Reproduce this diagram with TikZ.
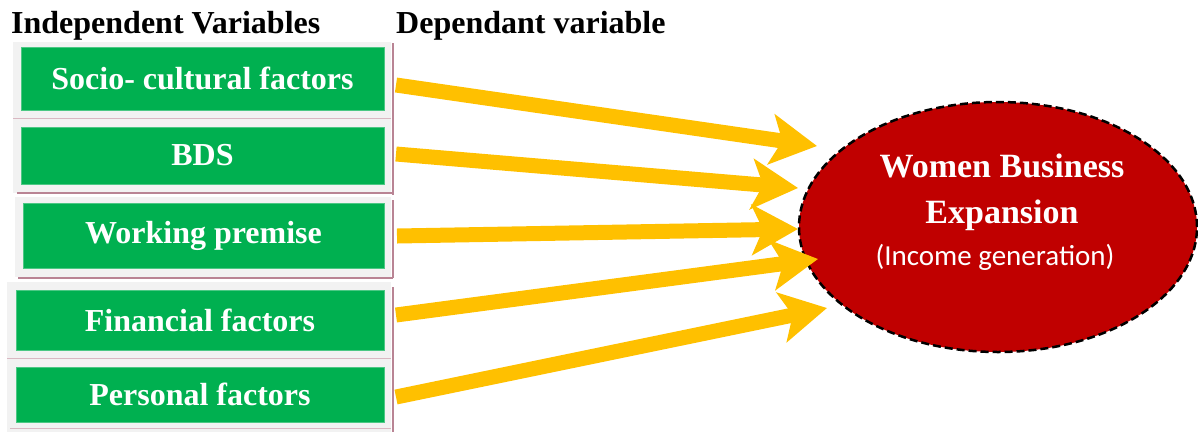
\documentclass[tikz,border=0pt]{standalone}
\usepackage{fontspec}
\setmainfont{Liberation Serif}
\newfontfamily\calib{Carlito}
\usetikzlibrary{arrows.meta,shapes.geometric}
\definecolor{boxgreen}{HTML}{00B050}
\definecolor{arrowyellow}{HTML}{FFC000}
\definecolor{ellred}{HTML}{C00000}
\definecolor{framegray}{HTML}{F2F2F2}
\definecolor{framepink}{HTML}{B98494}
\definecolor{seppink}{HTML}{D9B8C2}
\tikzset{
  varbox/.style={fill=boxgreen, draw=boxgreen!70!white, line width=0.6pt, inner sep=0pt, text=white, font=\bfseries\fontsize{32}{36}\selectfont},
  header/.style={anchor=base west, inner sep=0pt, font=\bfseries\fontsize{32}{36}\selectfont},
  bigarrow/.style={draw=arrowyellow, line width=15pt, -{Stealth[length=46pt, width=50pt, inset=11pt]}},
  frame/.style={fill=framegray, draw=none},
  pinkline/.style={draw=framepink, line width=2pt},
  sepline/.style={draw=seppink, line width=1pt},
  elltext/.style={anchor=base, inner sep=0pt, text=white},
}
\begin{document}
\begin{tikzpicture}[x=1pt,y=-1pt]
\useasboundingbox (0,0) rectangle (1198,432);
% frames
\fill[frame] (13,42) rectangle (391,193);
\fill[frame] (15,197) rectangle (391,277);
\fill[frame] (7,282) rectangle (391,432);
\draw[sepline] (13,118) -- (391,118);
\draw[sepline] (7,358) -- (391,358);
\draw[sepline] (10,428) -- (391,428);
\draw[pinkline] (17,193) -- (393,193);
\draw[pinkline] (393,43) -- (393,195);
\draw[pinkline] (18,277.5) -- (393,277.5);
\draw[pinkline] (393,200) -- (393,278);
\draw[pinkline] (393,287) -- (393,432);
% headers
\node[header] (h1) at (11,33) {Independent Variables};
\node[header] (h2) at (396,33) {Dependant variable};
% green boxes
\node[varbox, minimum width=363pt, minimum height=63pt] (b1) at (202.5,78.5) {Socio- cultural factors};
\node[varbox, minimum width=363pt, minimum height=57pt] (b2) at (202.5,155.5) {BDS};
\node[varbox, minimum width=361pt, minimum height=65pt] (b3) at (203.5,235.5) {Working premise};
\node[varbox, minimum width=368pt, minimum height=60pt] (b4) at (200,320) {Financial factors};
\node[varbox, minimum width=368pt, minimum height=55pt] (b5) at (200,394.5) {Personal factors};
% ellipse
\node[ellipse, fill=ellred, draw=black, line width=2.5pt, dash pattern=on 8pt off 4pt, minimum width=398pt, minimum height=250pt, inner sep=0pt] (ell) at (998,227) {};
\node[elltext, font=\bfseries\fontsize{34}{38}\selectfont] (t1) at (1002,177) {Women Business};
\node[elltext, font=\bfseries\fontsize{34}{38}\selectfont] (t2) at (1002,223) {Expansion};
\node[elltext, font=\calib\fontsize{29}{33}\selectfont] (t3) at (995,265) {(Income generation)};
% arrow ends
\coordinate (s1) at (396,85);   \coordinate (e1) at (817,146);
\coordinate (s2) at (396,154);  \coordinate (e2) at (798,188);
\coordinate (s3) at (397,236);  \coordinate (e3) at (798,229);
\coordinate (s4) at (396,315);  \coordinate (e4) at (818,259);
\coordinate (s5) at (396,397);  \coordinate (e5) at (827,308);
\draw[bigarrow] (s1) -- (e1);
\draw[bigarrow] (s2) -- (e2);
\draw[bigarrow] (s3) -- (e3);
\draw[bigarrow] (s4) -- (e4);
\draw[bigarrow] (s5) -- (e5);
\end{tikzpicture}
\end{document}
